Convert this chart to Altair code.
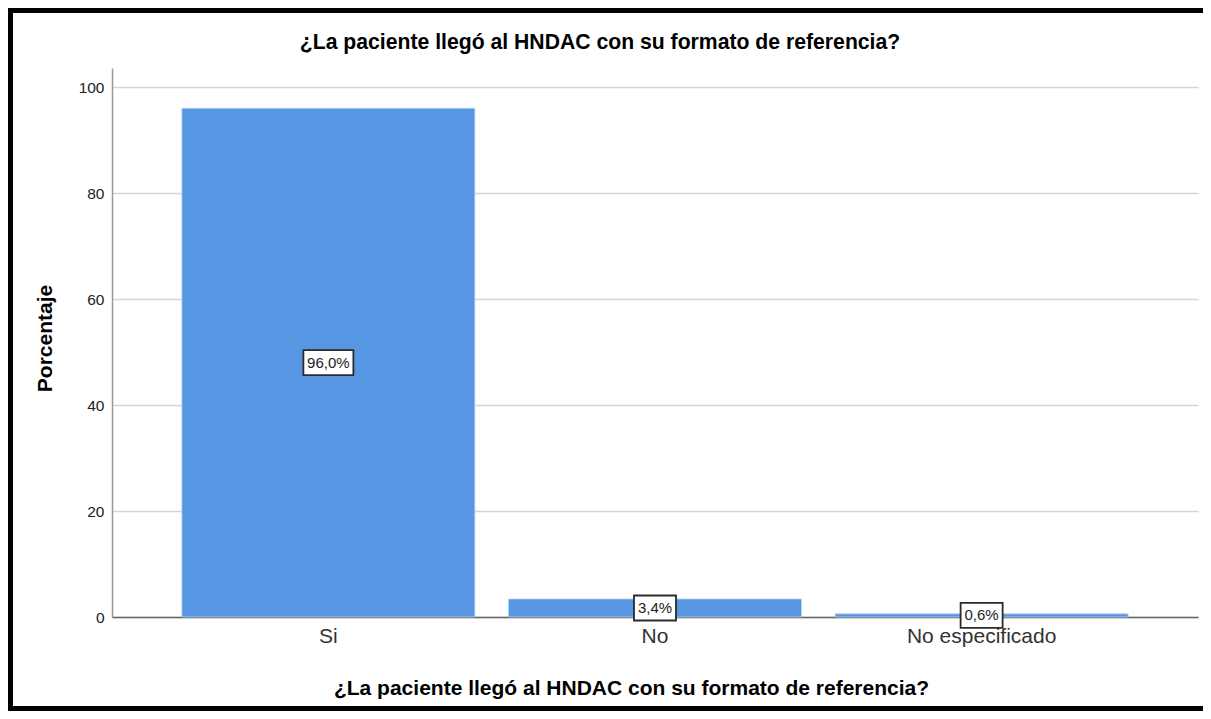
import altair as alt
import pandas as pd

categories = ["Si", "No", "No especificado"]
percentages = [96.0, 3.4, 0.6]
labels = ["96,0%", "3,4%", "0,6%"]
y_ticks = [0, 20, 40, 60, 80, 100]

title_text = "¿La paciente llegó al HNDAC con su formato de referencia?"
x_title = "¿La paciente llegó al HNDAC con su formato de referencia?"
y_title = "Porcentaje"

df = pd.DataFrame({"cat": categories, "pct": percentages, "label": labels})

FONT = "Arial, Liberation Sans, sans-serif"
BAR = "#5696E3"

x_enc = alt.X(
    "cat:N",
    sort=categories,
    scale=alt.Scale(paddingInner=0.103, paddingOuter=0.214),
    axis=alt.Axis(
        title=x_title,
        labelAngle=0,
        labelFont=FONT,
        labelFontSize=21,
        labelColor="#333333",
        labelPadding=8,
        ticks=False,
        domainColor="#666666",
        domainWidth=1.5,
        titleFont=FONT,
        titleFontSize=21,
        titleFontWeight="bold",
        titleColor="#000000",
        titleX=519,
        titleY=71,
        titleBaseline="middle",
        titleAlign="center",
    ),
)

y_scale = alt.Scale(domain=[0, 103.6], nice=False)

bars = alt.Chart(df).mark_bar(color=BAR, stroke="#b9d3f3", strokeWidth=0.8).encode(
    x=x_enc,
    y=alt.Y(
        "pct:Q",
        scale=y_scale,
        axis=alt.Axis(
            title=y_title,
            values=y_ticks,
            labelFont=FONT,
            labelFontSize=15.5,
            labelColor="#222222",
            labelPadding=8,
            ticks=False,
            domainColor="#999999",
            domainWidth=1.5,
            grid=True,
            gridColor="#d4d4d4",
            gridWidth=1.5,
            titleFont=FONT,
            titleFontSize=21,
            titleFontWeight="bold",
            titleColor="#000000",
            titleAngle=-90,
            titleX=-67,
            titleY=270,
            titleBaseline="middle",
            titleAlign="center",
        ),
    ),
)

base_lbl = alt.Chart(df).transform_calculate(
    mid="datum.pct / 2",
    box="length(datum.label) > 4 ? 'M-2,-1H2V1H-2Z' : 'M-1.68,-1H1.68V1H-1.68Z'",
)

boxes = base_lbl.mark_point(
    filled=True, fill="white", stroke="#2b2b2b", strokeWidth=1.8, size=625, opacity=1
).encode(
    x=alt.X("cat:N", sort=categories),
    y=alt.Y("mid:Q", scale=y_scale),
    shape=alt.Shape("box:N", scale=None),
)

texts = base_lbl.mark_text(
    font=FONT, fontSize=15, color="#222222", baseline="middle", align="center"
).encode(
    x=alt.X("cat:N", sort=categories),
    y=alt.Y("mid:Q", scale=y_scale),
    text="label:N",
)

frame_df = pd.DataFrame({"k": [0]})
frame = alt.Chart(frame_df)
top_rule = frame.mark_rule(color="black", strokeWidth=5).encode(
    x=alt.value(-104), x2=alt.value(1100), y=alt.value(-57.5)
)
left_rule = frame.mark_rule(color="black", strokeWidth=5).encode(
    x=alt.value(-101.5), y=alt.value(-60), y2=alt.value(651)
)
bottom_rule = frame.mark_rule(color="black", strokeWidth=5).encode(
    x=alt.value(-104), x2=alt.value(1100), y=alt.value(640.5)
)

chart = alt.layer(bars, boxes, texts, top_rule, left_rule, bottom_rule).properties(
    width=1086,
    height=549,
    autosize=alt.AutoSizeParams(type="none"),
    padding={"left": 104, "top": 60, "right": 5, "bottom": 94},
    title=alt.TitleParams(
        text=title_text,
        font=FONT,
        fontSize=21.2,
        fontWeight="bold",
        color="#000000",
        anchor="middle",
        dx=-55,
        dy=48,
        offset=0,
    ),
).configure(background="white").configure_view(strokeOpacity=0, strokeWidth=0)

chart.save("out.html", embed_options={"renderer": "svg", "actions": False})
